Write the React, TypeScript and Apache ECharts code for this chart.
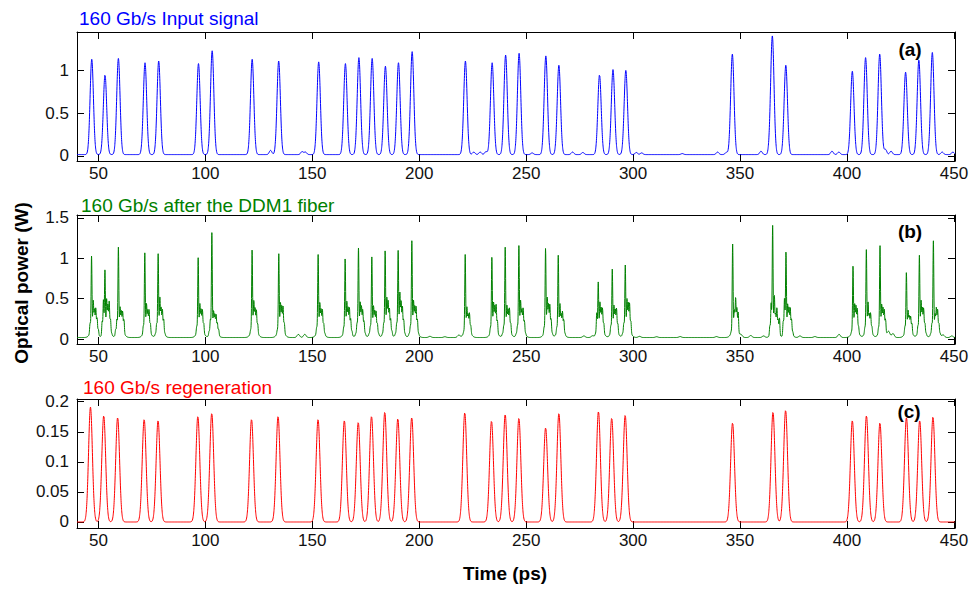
import React, { useEffect, useRef } from "react";
import * as echarts from "echarts";

// ---------- axis ticks ----------
const timeTicks = [50, 100, 150, 200, 250, 300, 350, 400, 450];
const inputTicks = [0, 0.5, 1];
const fiberTicks = [0, 0.5, 1, 1.5];
const regenTicks = [0, 0.05, 0.1, 0.15, 0.2];

// ---------- (a) input signal: pulse centres (ps) and peaks (W) ----------
const inputPulseTimes = [46.9, 53.1, 59.35, 71.8, 78.2, 96.8, 103.2, 121.9, 134.3, 153.0,
  165.5, 171.8, 178.0, 184.2, 190.3, 196.7, 221.6, 234.1, 240.4, 246.7, 259.2, 265.3, 284.3, 290.6, 296.6,
  346.4, 365.1, 371.4, 402.5, 408.7, 415.3, 427.4, 433.6, 439.9];
const inputPulsePeaks = [1.13, 0.95, 1.14, 1.09, 1.11, 1.08, 1.23, 1.13, 1.11, 1.10,
  1.08, 1.15, 1.14, 1.05, 1.09, 1.22, 1.11, 1.09, 1.18, 1.20, 1.17, 1.06, 0.95, 1.01, 1.00,
  1.19, 1.40, 1.06, 0.99, 1.15, 1.19, 0.98, 1.12, 1.21];
const inputFloor = 0.015;
const inputRipples: [number, number][] = [[130.5, 0.05], [145.2, 0.035], [146.8, 0.03], [225.5, 0.03],
  [228.5, 0.03], [231.2, 0.035], [252.8, 0.02], [271.7, 0.03], [276.5, 0.025], [301.5, 0.025], [304, 0.02],
  [323, 0.012], [339.5, 0.03], [343.6, 0.025], [359.8, 0.04], [363.8, 0.04], [393, 0.04], [396.2, 0.03],
  [418, 0.06], [420.6, 0.04], [444.5, 0.03], [449.5, 0.03]];

// ---------- (b) after DDM1 fiber ----------
const fiberPulseTimes = [46.8, 53.06, 59.35, 71.7, 77.94, 96.65, 103.05, 121.87, 134.34, 152.74,
  165.37, 171.6, 177.84, 184.07, 190.15, 196.55, 221.5, 233.97, 240.2, 246.6, 259.07, 265.0, 283.7, 290.26, 296.34,
  346.54, 365.24, 371.48, 402.82, 409.05, 415.44, 427.77, 433.85, 440.39];
const fiberPulsePeaks = [1.05, 0.88, 1.16, 1.09, 1.08, 1.03, 1.34, 1.13, 1.08, 1.07,
  1.02, 1.15, 1.04, 1.12, 1.12, 1.24, 1.07, 1.04, 1.16, 1.18, 1.15, 1.06, 0.73, 0.89, 0.94,
  1.20, 1.43, 1.11, 0.93, 1.13, 1.18, 0.85, 1.06, 1.24];
// secondary spikes around each pulse: offsets (ps) and heights (W)
const fiberSubOffsets = [-1.3, -0.7, 0.8, 1.4, 2.0, 2.6, 3.2];
const fiberSubPeaks = [
  [0.12, 0.25, 0.46, 0.36, 0.40, 0.32, 0.20],
  [0.30, 0.54, 0.48, 0.42, 0.48, 0.30, 0.15],
  [0.20, 0.30, 0.38, 0.34, 0.36, 0.30, 0.13],
  [0.12, 0.22, 0.42, 0.35, 0.38, 0.25, 0.12],
  [0.15, 0.25, 0.50, 0.38, 0.38, 0.30, 0.15],
  [0.12, 0.21, 0.42, 0.36, 0.38, 0.25, 0.12],
  [0.18, 0.30, 0.34, 0.30, 0.32, 0.25, 0.20],
  [0.10, 0.17, 0.46, 0.38, 0.38, 0.25, 0.12],
  [0.10, 0.17, 0.44, 0.40, 0.42, 0.25, 0.12],
  [0.10, 0.20, 0.44, 0.36, 0.38, 0.25, 0.15],
  [0.10, 0.20, 0.45, 0.38, 0.40, 0.30, 0.18],
  [0.15, 0.25, 0.44, 0.40, 0.38, 0.28, 0.15],
  [0.15, 0.22, 0.40, 0.34, 0.36, 0.25, 0.15],
  [0.15, 0.25, 0.50, 0.46, 0.40, 0.30, 0.18],
  [0.15, 0.25, 0.56, 0.46, 0.42, 0.30, 0.15],
  [0.15, 0.22, 0.46, 0.40, 0.42, 0.30, 0.15],
  [0.08, 0.15, 0.38, 0.30, 0.34, 0.22, 0.10],
  [0.12, 0.20, 0.44, 0.40, 0.44, 0.28, 0.12],
  [0.15, 0.22, 0.40, 0.36, 0.40, 0.25, 0.12],
  [0.15, 0.22, 0.46, 0.36, 0.40, 0.28, 0.15],
  [0.10, 0.20, 0.50, 0.42, 0.44, 0.30, 0.15],
  [0.12, 0.20, 0.42, 0.30, 0.36, 0.30, 0.15],
  [0.15, 0.38, 0.44, 0.38, 0.40, 0.25, 0.12],
  [0.12, 0.22, 0.40, 0.36, 0.40, 0.25, 0.12],
  [0.15, 0.25, 0.48, 0.44, 0.46, 0.28, 0.12],
  [0.08, 0.15, 0.35, 0.50, 0.40, 0.38, 0.13],
  [0.25, 0.50, 0.52, 0.30, 0.40, 0.30, 0.34],
  [0.30, 0.56, 0.42, 0.38, 0.40, 0.30, 0.17],
  [0.08, 0.15, 0.42, 0.40, 0.40, 0.21, 0.10],
  [0.12, 0.20, 0.44, 0.30, 0.34, 0.21, 0.10],
  [0.12, 0.20, 0.42, 0.38, 0.38, 0.30, 0.13],
  [0.12, 0.21, 0.34, 0.28, 0.30, 0.25, 0.10],
  [0.12, 0.22, 0.46, 0.38, 0.40, 0.25, 0.15],
  [0.15, 0.25, 0.30, 0.38, 0.38, 0.25, 0.15],
];
const fiberFloor = 0.02;
const fiberRipples: [number, number][] = [[143.5, 0.04], [146.5, 0.04], [205, 0.015], [212, 0.01],
  [218.5, 0.03], [277, 0.02], [281, 0.02], [303, 0.015], [311, 0.01], [322, 0.012], [339, 0.012],
  [350.5, 0.03], [355, 0.025], [361, 0.02], [378, 0.02], [385, 0.012], [396.3, 0.04], [419.5, 0.07],
  [421.5, 0.05], [445, 0.03], [449, 0.02]];

// ---------- (c) regeneration ----------
const regenPulseTimes = [46.3, 52.5, 59.0, 71.4, 77.9, 96.5, 103.0, 121.6, 134.0, 152.7,
  165.0, 171.5, 177.7, 183.9, 190.0, 196.5, 221.3, 233.8, 240.2, 246.6, 259.1, 265.3, 283.8, 290.0, 296.3,
  346.5, 365.4, 371.3, 402.5, 409.1, 415.4, 427.8, 434.0, 440.2];
const regenPulsePeaks = [0.191, 0.177, 0.174, 0.171, 0.169, 0.176, 0.181, 0.171, 0.176, 0.171,
  0.169, 0.166, 0.176, 0.183, 0.172, 0.174, 0.182, 0.168, 0.179, 0.173, 0.157, 0.181, 0.184, 0.173, 0.178,
  0.165, 0.183, 0.186, 0.169, 0.177, 0.165, 0.174, 0.169, 0.175];

const T_MIN = 40;
const T_MAX = 450.5;
const DT = 0.05;
const FONT = "'Liberation Sans', Arial, Helvetica, sans-serif";

type Comp = { c: number; h: number; s: number };

function buildSignal(floor: number, comps: Comp[]): [number, number][] {
  const out: [number, number][] = [];
  const n = Math.round((T_MAX - T_MIN) / DT);
  for (let i = 0; i <= n; i++) {
    const t = T_MIN + i * DT;
    let y = floor;
    for (const k of comps) {
      const d = (t - k.c) / k.s;
      if (d > 6 || d < -6) continue;
      y += k.h * Math.exp(-0.5 * d * d);
    }
    out.push([Math.round(t * 100) / 100, Math.round(y * 10000) / 10000]);
  }
  return out;
}

function inputSignal() {
  const comps: Comp[] = [];
  inputPulseTimes.forEach((c, i) => comps.push({ c, h: inputPulsePeaks[i] - inputFloor, s: 0.78 }));
  inputRipples.forEach(([c, h]) => comps.push({ c, h, s: 0.6 }));
  return buildSignal(inputFloor, comps);
}

function fiberSignal() {
  const comps: Comp[] = [];
  fiberPulseTimes.forEach((c, i) => {
    comps.push({ c: c + 1.0, h: 0.13, s: 1.3 });
    comps.push({ c, h: Math.max(0, fiberPulsePeaks[i] - 0.14), s: 0.2 });
    fiberSubOffsets.forEach((o, j) => {
      comps.push({ c: c + o, h: Math.max(0, fiberSubPeaks[i][j] - 0.13), s: 0.2 });
    });
  });
  fiberRipples.forEach(([c, h]) => comps.push({ c, h, s: 0.6 }));
  return buildSignal(fiberFloor, comps);
}

function regenSignal() {
  const comps: Comp[] = [];
  regenPulseTimes.forEach((c, i) => comps.push({ c, h: regenPulsePeaks[i], s: 0.9 }));
  return buildSignal(0, comps);
}

const GRID_LEFT = 77;
const GRID_WIDTH = 878;
const GRID_HEIGHT = 129;
const GRID_TOPS = [32, 215, 399];

function xAxesFor(g: number) {
  const line = { show: true, onZero: false, lineStyle: { color: "#000", width: 1 } };
  const tick = { show: true, inside: true, length: 7, customValues: timeTicks, lineStyle: { color: "#000", width: 1 } };
  return [
    {
      type: "value", gridIndex: g, position: "bottom", min: T_MIN, max: T_MAX,
      axisLine: line, axisTick: tick,
      axisLabel: { show: true, customValues: timeTicks, margin: 4, fontSize: 17, color: "#111", fontFamily: FONT },
      splitLine: { show: false },
    },
    {
      type: "value", gridIndex: g, position: "top", min: T_MIN, max: T_MAX,
      axisLine: line, axisTick: tick, axisLabel: { show: false }, splitLine: { show: false },
    },
  ];
}

function yAxesFor(g: number, min: number, max: number, ticks: number[]) {
  const line = { show: true, onZero: false, lineStyle: { color: "#000", width: 1 } };
  const tick = { show: true, inside: true, length: 7, customValues: ticks, lineStyle: { color: "#000", width: 1 } };
  return [
    {
      type: "value", gridIndex: g, position: "left", min, max,
      axisLine: line, axisTick: tick,
      axisLabel: { show: true, customValues: ticks, margin: 8, fontSize: 17, color: "#111", fontFamily: FONT },
      splitLine: { show: false },
    },
    {
      type: "value", gridIndex: g, position: "right", min, max,
      axisLine: line, axisTick: tick, axisLabel: { show: false }, splitLine: { show: false },
    },
  ];
}

export default function App() {
  const ref = useRef<HTMLDivElement>(null);
  useEffect(() => {
    if (!ref.current) return;
    const chart = echarts.init(ref.current, null, { renderer: "svg" });
    const lineSeries = (g: number, data: [number, number][], color: string) => ({
      type: "line", xAxisIndex: 2 * g, yAxisIndex: 2 * g, data, showSymbol: false, symbol: "none",
      lineStyle: { color, width: 1 }, silent: true, clip: true,
    });
    const panelTitle = (text: string, x: number, y: number, color: string) => ({
      type: "text", x, y, silent: true,
      style: { text, fill: color, fontSize: 19, fontFamily: FONT, textAlign: "left", textVerticalAlign: "middle" },
    });
    const panelTag = (text: string, x: number, y: number) => ({
      type: "text", x, y, silent: true,
      style: { text, fill: "#000", fontSize: 19, fontWeight: "bold", fontFamily: FONT, textAlign: "center", textVerticalAlign: "middle" },
    });
    chart.setOption({
      animation: false,
      backgroundColor: "#fff",
      grid: GRID_TOPS.map((top) => ({ left: GRID_LEFT, top, width: GRID_WIDTH, height: GRID_HEIGHT, containLabel: false, outerBoundsMode: "none" })),
      xAxis: [...xAxesFor(0), ...xAxesFor(1), ...xAxesFor(2)],
      yAxis: [
        ...yAxesFor(0, -0.06, 1.45, inputTicks),
        ...yAxesFor(1, -0.06, 1.535, fiberTicks),
        ...yAxesFor(2, -0.01, 0.2045, regenTicks),
      ],
      series: [
        lineSeries(0, inputSignal(), "#0000ff"),
        lineSeries(1, fiberSignal(), "#008000"),
        lineSeries(2, regenSignal(), "#ff0000"),
      ],
      graphic: [
        panelTitle("160 Gb/s Input signal", 79, 18.5, "#0000ff"),
        panelTitle("160 Gb/s after the DDM1 fiber", 81, 205.7, "#008000"),
        panelTitle("160 Gb/s regeneration", 83, 387.5, "#ff0000"),
        panelTag("(a)", 910, 49.5),
        panelTag("(b)", 910, 231),
        panelTag("(c)", 909, 411),
        {
          type: "text", x: 21, y: 283, rotation: Math.PI / 2, silent: true,
          style: { text: "Optical power (W)", fill: "#000", fontSize: 19, fontWeight: "bold", fontFamily: FONT, textAlign: "center", textVerticalAlign: "middle" },
        },
        {
          type: "text", x: 505, y: 573, silent: true,
          style: { text: "Time (ps)", fill: "#000", fontSize: 19, fontWeight: "bold", fontFamily: FONT, textAlign: "center", textVerticalAlign: "middle" },
        },
      ],
    });
    return () => chart.dispose();
  }, []);
  return (
    <div
      ref={ref}
      style={{ position: "fixed", left: 0, top: 0, width: 972, height: 590, background: "#fff" }}
    />
  );
}
